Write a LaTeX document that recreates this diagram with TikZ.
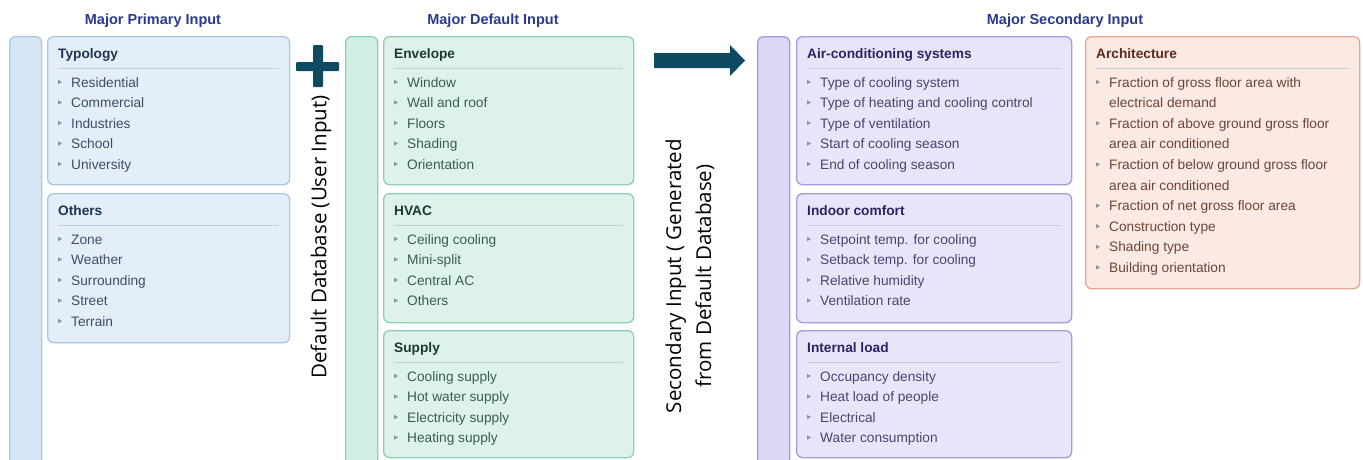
\documentclass[tikz,border=0pt]{standalone}
\usepackage{fontspec}
\setmainfont{Liberation Sans}
\newfontfamily\calib{Open Sans}
\definecolor{bluefill}{HTML}{E4EEF8}
\definecolor{blueborder}{HTML}{A6C8E6}
\definecolor{bluestrip}{HTML}{D7E6F5}
\definecolor{bluetitle}{HTML}{1F3552}
\definecolor{blueitem}{HTML}{3C4E66}
\definecolor{greenfill}{HTML}{DDF3EA}
\definecolor{greenborder}{HTML}{8ECFB2}
\definecolor{greenstrip}{HTML}{D0EEE2}
\definecolor{greentitle}{HTML}{1E3A2E}
\definecolor{greenitem}{HTML}{3D5C4D}
\definecolor{purplefill}{HTML}{E9E5F8}
\definecolor{purpleborder}{HTML}{A699DF}
\definecolor{purplestrip}{HTML}{DDD8F5}
\definecolor{purpletitle}{HTML}{2B2463}
\definecolor{purpleitem}{HTML}{4A4470}
\definecolor{orangefill}{HTML}{FBEAE3}
\definecolor{orangeborder}{HTML}{E7A88E}
\definecolor{orangetitle}{HTML}{5B2A1D}
\definecolor{orangeitem}{HTML}{6B4439}
\definecolor{headc}{HTML}{2B3A8C}
\definecolor{rulec}{HTML}{C5CDD6}
\definecolor{bulc}{HTML}{8A94A0}
\definecolor{darkc}{HTML}{0E4A62}
\tikzset{
  pbox/.style={draw=#1border, fill=#1fill, line width=1.3pt, rounded corners=6pt, inner sep=0pt},
  pstrip/.style={draw=#1border, fill=#1strip, line width=1.3pt, rounded corners=6pt, inner sep=0pt},
  ptitle/.style={font=\fontsize{13.7}{16}\selectfont\bfseries, inner sep=0pt},
  itm/.style={font=\fontsize{13.7}{16}\selectfont, inner sep=0pt},
  prule/.style={draw=rulec, line width=0.8pt},
  header/.style={font=\fontsize{14.5}{17}\selectfont\bfseries, text=headc, inner sep=0pt},
  rot/.style={font=\calib\fontsize{20.5}{30}\selectfont, text=black, inner sep=0pt, rotate=90},
}
% name, colour, x, y, w, h, title, items
\newcommand\panelbox[8]{%
  \node[pbox=#2, minimum width=#5pt, minimum height=#6pt, anchor=north west] (#1) at (#3,#4) {};
  \node[ptitle, text=#2title, anchor=base west] (#1-t) at (#3+11,#4+22) {#7};
  \draw[prule] (#3+11,#4+32) -- (#3+#5-10,#4+32);
  \foreach \t [count=\i] in {#8}{%
    \pgfmathsetmacro\yb{#4+51+20.5*(\i-1)}
    \fill[bulc] (#3+11,\yb-7.2) -- (#3+11,\yb-2.8) -- (#3+15,\yb-5) -- cycle;
    \node[itm, text=#2item, anchor=base west] (#1-\i) at (#3+24,\yb) {\t};
  }%
}
\begin{document}
\begin{tikzpicture}[x=1pt,y=-1pt]
\useasboundingbox (0,0) rectangle (1363,459);
% headers
\node[header, anchor=base] (h1) at (153,24) {Major Primary Input};
\node[header, anchor=base] (h2) at (493,24) {Major Default Input};
\node[header, anchor=base] (h3) at (1065,24) {Major Secondary Input};
% strips
\node[pstrip=blue, minimum width=32pt, minimum height=440pt, anchor=north west] (s1) at (9,36) {};
\node[pstrip=green, minimum width=32pt, minimum height=440pt, anchor=north west] (s2) at (345,36) {};
\node[pstrip=purple, minimum width=32pt, minimum height=440pt, anchor=north west] (s3) at (757,36) {};
% column 1
\panelbox{typ}{blue}{47}{36}{242}{148}{Typology}{Residential,Commercial,Industries,School,University}
\panelbox{oth}{blue}{47}{193}{242}{149}{Others}{Zone,Weather,Surrounding,Street,Terrain}
% column 2
\panelbox{env}{green}{383}{36}{250}{148}{Envelope}{Window,Wall and roof,Floors,Shading,Orientation}
\panelbox{hvac}{green}{383}{193}{250}{129}{HVAC}{Ceiling cooling,Mini-split,Central AC,Others}
\panelbox{sup}{green}{383}{330}{250}{127}{Supply}{Cooling supply,Hot water supply,Electricity supply,Heating supply}
% column 3
\panelbox{ac}{purple}{796}{36}{275}{148}{Air-conditioning systems}{Type of cooling system,Type of heating and cooling control,Type of ventilation,Start of cooling season,End of cooling season}
\panelbox{ind}{purple}{796}{193}{275}{129}{Indoor comfort}{Setpoint temp. for cooling,Setback temp. for cooling,Relative humidity,Ventilation rate}
\panelbox{int}{purple}{796}{330}{275}{127}{Internal load}{Occupancy density,Heat load of people,Electrical,Water consumption}
% architecture
\node[pbox=orange, minimum width=274pt, minimum height=252pt, anchor=north west] (arc) at (1085,36) {};
\node[ptitle, text=orangetitle, anchor=base west] (arc-t) at (1096,58) {Architecture};
\draw[prule] (1096,68) -- (1349,68);
\foreach \t/\b [count=\i] in {{Fraction of gross floor area with}/1,{electrical demand}/0,{Fraction of above ground gross floor}/1,{area air conditioned}/0,{Fraction of below ground gross floor}/1,{area air conditioned}/0,{Fraction of net gross floor area}/1,{Construction type}/1,{Shading type}/1,{Building orientation}/1}{%
  \pgfmathsetmacro\yb{87+20.6*(\i-1)}
  \ifnum\b=1 \fill[bulc] (1096,\yb-7.2) -- (1096,\yb-2.8) -- (1100,\yb-5) -- cycle; \fi
  \node[itm, text=orangeitem, anchor=base west] (arc-\i) at (1109,\yb) {\t};
}
% plus sign
\fill[darkc, rounded corners=1pt] (296,62) rectangle (339,71);
\fill[darkc, rounded corners=1pt] (313,45) rectangle (323,87);
% arrow
\fill[darkc] (654,53) -- (730,53) -- (730,45) -- (745,60.5) -- (730,76) -- (730,68) -- (654,68) -- cycle;
% rotated labels
\node[rot] (dd) at (321,237) {Default Database (User Input)};
\node[rot, align=center] (sec) at (690,276) {Secondary Input ( Generated\\from Default Database)};
\end{tikzpicture}
\end{document}
